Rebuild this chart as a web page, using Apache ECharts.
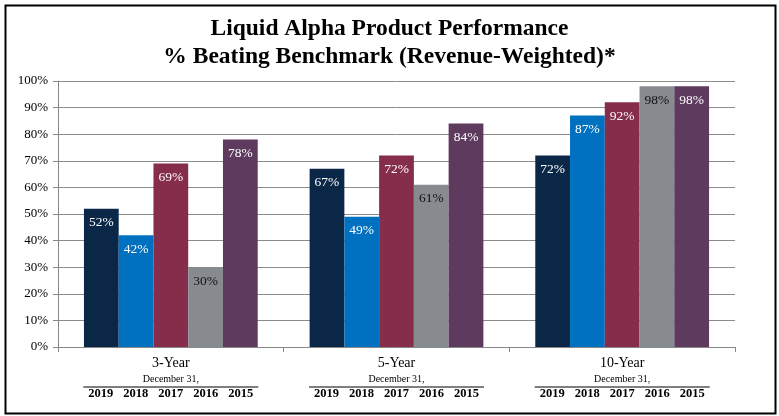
<!DOCTYPE html>
<html><head><meta charset="utf-8">
<script src="https://cdn.jsdelivr.net/npm/echarts@6/dist/echarts.min.js"></script>
<style>html,body{margin:0;padding:0;background:#fff}#c{width:779px;height:416px}</style>
</head><body><div id="c"></div>
<script>
const titleLines = ['Liquid Alpha Product Performance', '% Beating Benchmark (Revenue-Weighted)*'];
const categories = ['3-Year', '5-Year', '10-Year'];
const years = ['2019', '2018', '2017', '2016', '2015'];
const subLabel = 'December 31,';
const v2019 = [52, 67, 72];
const v2018 = [42, 49, 87];
const v2017 = [69, 72, 92];
const v2016 = [30, 61, 98];
const v2015 = [78, 84, 98];
const seriesValues = [v2019, v2018, v2017, v2016, v2015];
const colors = ['#0b2748', '#0070c0', '#862d4b', '#878a8f', '#5d3a5e'];
const labelColors = ['#fff', '#fff', '#fff', '#111', '#fff'];

const serif = '"Liberation Serif", "Times New Roman", serif';
const chart = echarts.init(document.getElementById('c'));
chart.setOption({
  animation: false,
  title: {
    text: titleLines.join('\n'),
    left: 'center', top: 10,
    textStyle: { fontFamily: serif, fontWeight: 'bold', fontSize: 23.5, lineHeight: 28, color: '#000' }
  },
  grid: { left: 58, right: 44, top: 81, bottom: 69, containLabel: false },
  xAxis: {
    type: 'category', data: categories,
    axisLine: { lineStyle: { color: '#888', width: 1 } },
    axisTick: { show: true, length: 5, lineStyle: { color: '#888' } },
    axisLabel: {
      margin: 7, interval: 0,
      formatter: function (v) {
        return '{c|' + v + '}\n{d|' + subLabel + '}\n{u| }\n' + years.map(y => '{y|' + y + '}').join('');
      },
      rich: {
        c: { fontFamily: serif, fontSize: 14, lineHeight: 18, color: '#000' },
        d: { fontFamily: serif, fontSize: 10, lineHeight: 14, color: '#000' },
        u: { fontSize: 1, lineHeight: 2, height: 1, width: 175, backgroundColor: '#000' },
        y: { fontFamily: serif, fontSize: 12.5, fontWeight: 'bold', lineHeight: 12, color: '#000', padding: [0, 5] }
      }
    }
  },
  yAxis: {
    type: 'value', min: 0, max: 100, interval: 10,
    axisLine: { show: true, lineStyle: { color: '#888' } },
    axisTick: { show: true, length: 5, lineStyle: { color: '#888' } },
    splitLine: { lineStyle: { color: '#8c8c8c' } },
    axisLabel: { formatter: '{value}%', fontFamily: serif, fontSize: 13, color: '#000', margin: 10 }
  },
  series: seriesValues.map((d, i) => ({
    name: years[i], type: 'bar', data: d,
    barGap: '0%', barCategoryGap: '23%',
    itemStyle: { color: colors[i] },
    label: {
      show: true, position: 'insideTop', distance: 7,
      formatter: '{c}%', fontFamily: serif, fontSize: 13.5, color: labelColors[i]
    }
  })),
  graphic: [{
    type: 'rect', left: 3, top: 3,
    shape: { width: 770, height: 408 },
    style: { fill: 'none', stroke: '#000', lineWidth: 2 }
  }]
});
</script></body></html>
